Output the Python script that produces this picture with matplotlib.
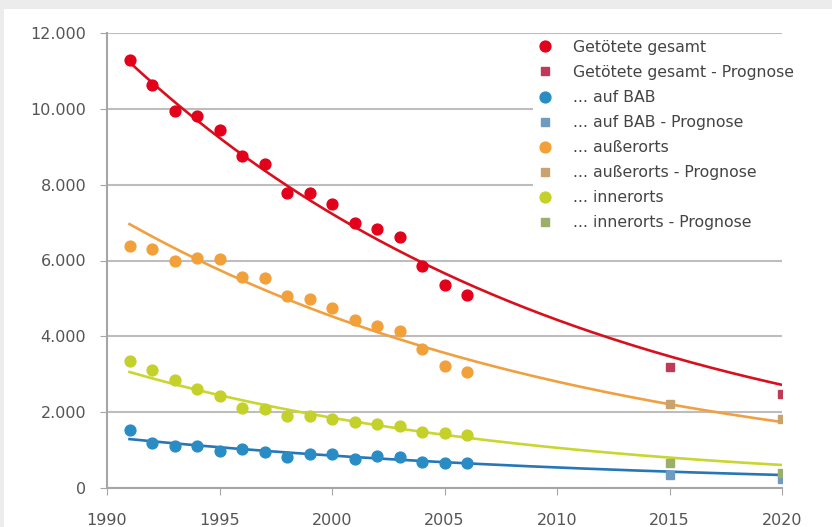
import numpy as np
import matplotlib.pyplot as plt
from matplotlib.patches import Rectangle

# Beobachtete Jahre und Prognosejahre
years = [1991, 1992, 1993, 1994, 1995, 1996, 1997, 1998, 1999, 2000,
         2001, 2002, 2003, 2004, 2005, 2006]
prog_years = [2015, 2020]

gesamt = [11300, 10631, 9949, 9814, 9454, 8758, 8549, 7792, 7772, 7503,
          6977, 6842, 6613, 5842, 5361, 5091]
gesamt_prog = [3190, 2480]

bab = [1530, 1190, 1110, 1110, 980, 1030, 950, 820, 900, 900,
       760, 840, 820, 690, 660, 660]
bab_prog = [340, 240]

ausserorts = [6380, 6300, 5990, 6070, 6040, 5560, 5540, 5060, 4980, 4750,
              4430, 4270, 4140, 3670, 3220, 3060]
ausserorts_prog = [2220, 1820]

innerorts = [3350, 3110, 2850, 2610, 2430, 2110, 2080, 1900, 1900, 1820,
             1740, 1690, 1640, 1480, 1450, 1400]
innerorts_prog = [660, 400]

# Trendkurven (exponentiell), Werte 1991 und 2020
trend_start = [11230, 1290, 6960, 3060]
trend_end = [2720, 343, 1740, 607]

labels = ["Getötete gesamt", "... auf BAB", "... außerorts", "... innerorts"]
colors = ["#e2001a", "#2a8cc4", "#f2a03a", "#c3d12a"]
prog_colors = ["#bf3a58", "#6f9bc0", "#c9a36e", "#9caf6a"]
line_colors = ["#d8101e", "#2676b8", "#f0a040", "#c8d630"]

series = [(gesamt, gesamt_prog), (bab, bab_prog),
          (ausserorts, ausserorts_prog), (innerorts, innerorts_prog)]

fig = plt.figure(figsize=(8.32, 5.27), dpi=100, facecolor="#ececec")
fig.patches.append(Rectangle((4 / 832, 0), 1, 1 - 9 / 527, transform=fig.transFigure,
                             facecolor="white", edgecolor="none", zorder=-10))
ax = fig.add_axes([107 / 832, 1 - 488 / 527, 675 / 832, 455 / 527])
ax.set_facecolor("white")

xfit = np.linspace(1991, 2020, 200)
handles = []
for (obs, prog), lab, c, pc, lc, t0, t1 in zip(series, labels, colors, prog_colors,
                                               line_colors, trend_start, trend_end):
    ax.plot(xfit, np.geomspace(t0, t1, len(xfit)), color=lc, lw=1.9, zorder=2)
    h1, = ax.plot(years, obs, "o", color=c, ms=7.8, ls="none", zorder=3, label=lab)
    h2, = ax.plot(prog_years, prog, "s", color=pc, ms=5.5, ls="none", zorder=3,
                  label=lab + " - Prognose")
    handles += [h1, h2]

ax.set_xlim(1990, 2020)
ax.set_ylim(0, 12000)
ax.set_xticks(range(1990, 2021, 5))
ax.set_yticks(range(0, 12001, 2000))
ax.set_yticklabels([f"{v:,}".replace(",", ".") for v in range(0, 12001, 2000)])
ax.grid(axis="y", color="#bdbdbd", lw=1.5, zorder=1)
ax.set_axisbelow(True)
for s in ["top", "right"]:
    ax.spines[s].set_visible(False)
for s in ["left", "bottom"]:
    ax.spines[s].set_color("#a6a6a6")
    ax.spines[s].set_linewidth(1.5)
ax.tick_params(colors="#a6a6a6", labelcolor="#555555", labelsize=11.5, length=5)
ax.tick_params(axis="y", pad=10)
ax.tick_params(axis="x", pad=13)

leg = ax.legend(handles=handles, loc="upper left", bbox_to_anchor=(533 / 832, 1 - 36 / 527),
                bbox_transform=fig.transFigure, frameon=True, fontsize=11.3,
                labelspacing=0.64, handlelength=1.0, handletextpad=1.3,
                borderpad=0.25, borderaxespad=0, framealpha=1)
leg.get_frame().set_edgecolor("none")
for t in leg.get_texts():
    t.set_color("#444444")

fig.savefig("out.png", dpi=100, facecolor=fig.get_facecolor())
